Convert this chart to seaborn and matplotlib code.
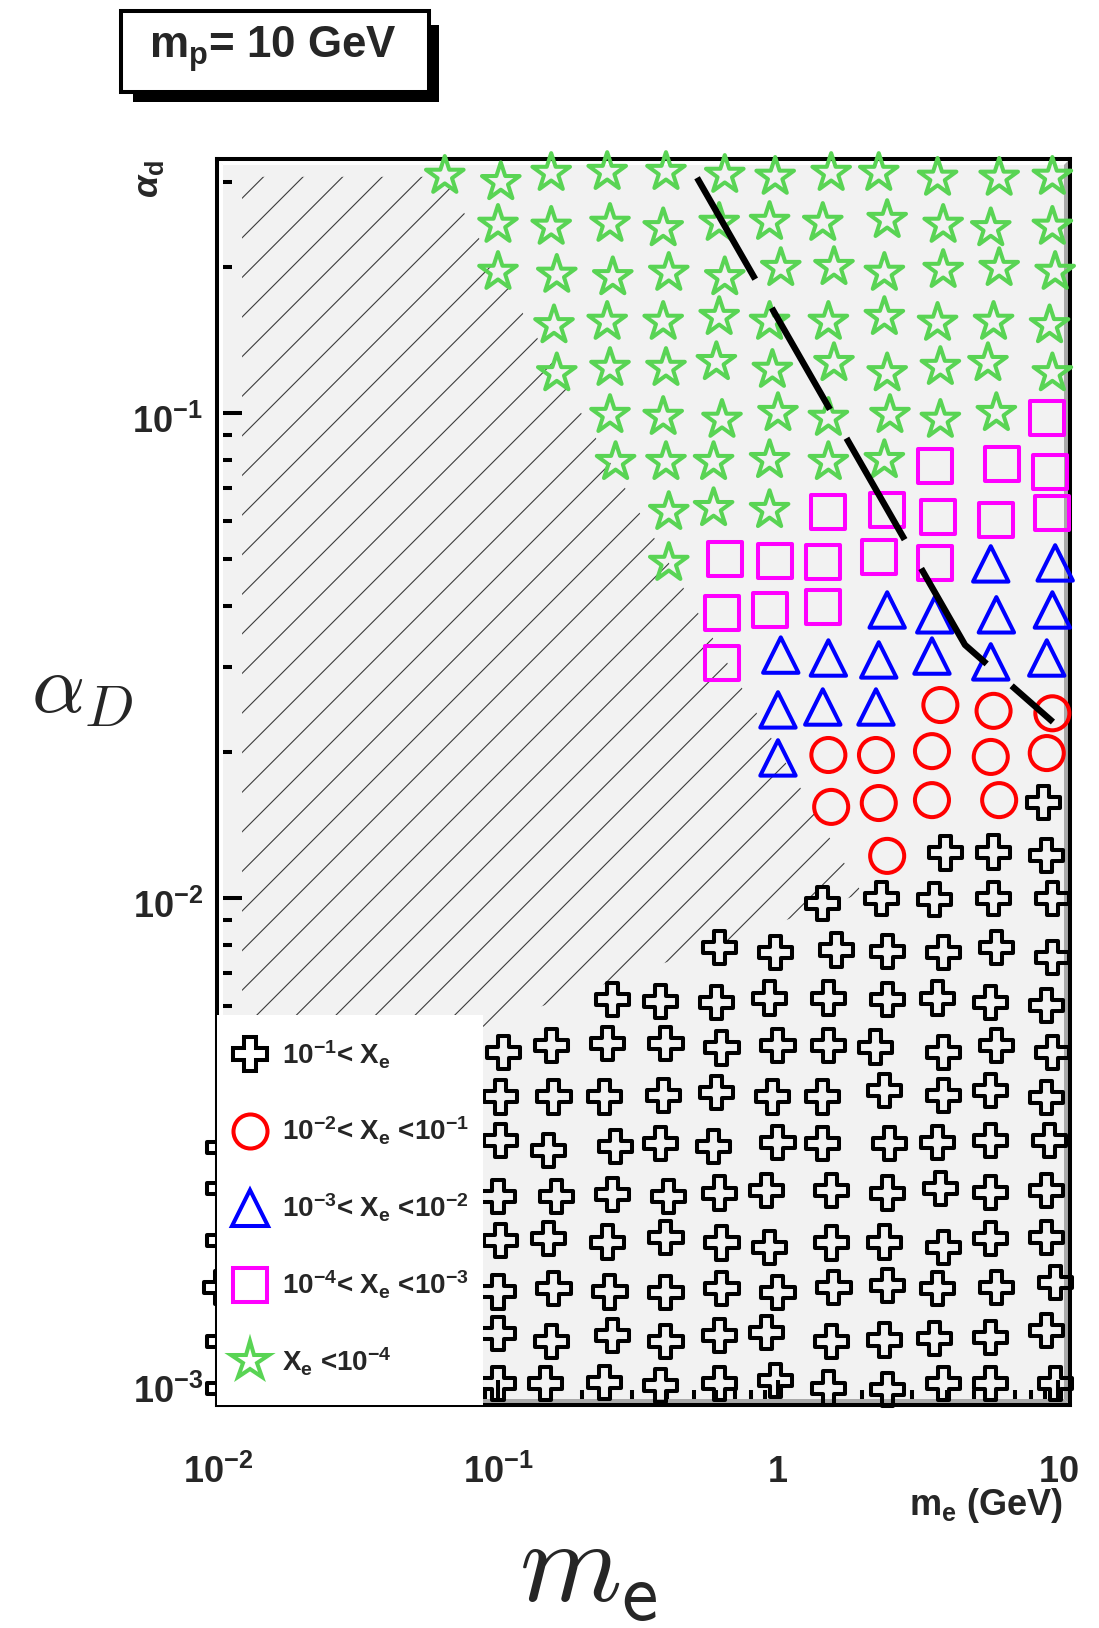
import numpy as np
import pandas as pd
import matplotlib
matplotlib.use("Agg")
import matplotlib.pyplot as plt
import seaborn as sns
from matplotlib.lines import Line2D
from matplotlib.patches import Polygon, Rectangle
from matplotlib.collections import LineCollection
from matplotlib.markers import MarkerStyle
from matplotlib.transforms import ScaledTranslation
from matplotlib.ticker import FixedLocator, FixedFormatter, LogLocator, NullFormatter

# ---------------- data: log10(m_e / GeV) and log10(alpha_D) ----------------
star_log_me = [-1.19, -0.99, -0.81, -0.61, -0.40, -0.19, -0.01, 0.19, 0.36, 0.57, 0.79, 0.98,
               -1.00, -0.81, -0.60, -0.41, -0.21, -0.03, 0.16, 0.39, 0.59, 0.76, 0.98,
               -1.00, -0.79, -0.59, -0.39, -0.19, 0.01, 0.20, 0.38, 0.59, 0.79, 0.99,
               -0.80, -0.61, -0.41, -0.21, -0.03, 0.18, 0.38, 0.57, 0.77, 0.97,
               -0.79, -0.60, -0.40, -0.22, -0.02, 0.20, 0.39, 0.58, 0.75, 0.98,
               -0.60, -0.41, -0.20, 0.00, 0.18, 0.40, 0.58, 0.78,
               -0.58, -0.40, -0.23, -0.03, 0.18, 0.38,
               -0.39, -0.23, -0.03,
               -0.39]
star_log_alpha = [-0.511, -0.524, -0.505, -0.503, -0.503, -0.509, -0.513, -0.505, -0.505, -0.515, -0.515, -0.513,
                  -0.612, -0.616, -0.610, -0.619, -0.608, -0.606, -0.608, -0.602, -0.612, -0.619, -0.616,
                  -0.709, -0.715, -0.720, -0.711, -0.720, -0.701, -0.699, -0.711, -0.705, -0.701, -0.709,
                  -0.819, -0.812, -0.812, -0.802, -0.812, -0.812, -0.802, -0.814, -0.812, -0.819,
                  -0.918, -0.907, -0.907, -0.895, -0.911, -0.897, -0.918, -0.905, -0.897, -0.918,
                  -1.004, -1.008, -1.014, -1.000, -1.010, -1.004, -1.014, -1.000,
                  -1.101, -1.101, -1.101, -1.097, -1.101, -1.097,
                  -1.204, -1.196, -1.200,
                  -1.309]

square_log_me = [0.96, 0.56, 0.80, 0.97, 0.18, 0.39, 0.57, 0.78, 0.98,
                 -0.19, -0.01, 0.16, 0.36, 0.56, -0.20, -0.03, 0.16, -0.20]
square_log_alpha = [-1.010, -1.109, -1.105, -1.122, -1.204, -1.200, -1.214, -1.221, -1.206,
                    -1.301, -1.305, -1.307, -1.297, -1.309, -1.412, -1.406, -1.400, -1.515]

triangle_log_me = [0.76, 0.99, 0.39, 0.56, 0.78, 0.98, 0.01, 0.18, 0.36, 0.55, 0.76, 0.96,
                   0.00, 0.16, 0.35, 0.00]
triangle_log_alpha = [-1.311, -1.309, -1.406, -1.416, -1.416, -1.406, -1.499, -1.505, -1.509,
                      -1.501, -1.513, -1.505, -1.612, -1.606, -1.606, -1.711]

circle_log_me = [0.58, 0.77, 0.98, 0.18, 0.35, 0.55, 0.76, 0.96, 0.19, 0.36, 0.55, 0.79, 0.39]
circle_log_alpha = [-1.602, -1.614, -1.619, -1.705, -1.705, -1.697, -1.709, -1.701,
                    -1.812, -1.804, -1.798, -1.798, -1.913]

cross_log_me = [0.95,
                0.60, 0.77, 0.96,
                0.16, 0.37, 0.56, 0.77, 0.98,
                -0.21, -0.01, 0.21, 0.39, 0.59, 0.78, 0.98,
                -0.59, -0.42, -0.22, -0.03, 0.18, 0.39, 0.57, 0.76, 0.96,
                -0.98, -0.81, -0.61, -0.40, -0.20, 0.00, 0.18, 0.35, 0.59, 0.78, 0.98,
                -0.99, -0.80, -0.62, -0.41, -0.22, -0.02, 0.16, 0.38, 0.59, 0.76, 0.96,
                -1.98, -0.99, -0.82, -0.58, -0.42, -0.23, 0.00, 0.16, 0.40, 0.57, 0.76, 0.97,
                -1.98, -1.00, -0.79, -0.59, -0.39, -0.21, -0.04, 0.19, 0.39, 0.58, 0.76, 0.96,
                -1.98, -0.99, -0.82, -0.61, -0.40, -0.20, -0.03, 0.19, 0.38, 0.59, 0.76, 0.96,
                -1.99, -1.00, -0.80, -0.60, -0.40, -0.20, 0.00, 0.20, 0.39, 0.57, 0.78, 0.99,
                -1.98, -1.00, -0.81, -0.59, -0.40, -0.21, -0.04, 0.19, 0.38, 0.56, 0.76, 0.96,
                -1.98, -1.00, -0.83, -0.62, -0.42, -0.21, -0.01, 0.18, 0.39, 0.59, 0.76, 0.99]
cross_log_alpha = [-1.802,
                   -1.907, -1.905, -1.913,
                   -2.012, -2.000, -2.002, -2.000, -2.000,
                   -2.101, -2.113, -2.107, -2.111, -2.113, -2.101, -2.122,
                   -2.210, -2.214, -2.216, -2.206, -2.206, -2.210, -2.206, -2.216, -2.221,
                   -2.318, -2.303, -2.299, -2.299, -2.309, -2.303, -2.303, -2.307, -2.318, -2.303, -2.318,
                   -2.410, -2.410, -2.410, -2.406, -2.400, -2.410, -2.410, -2.396, -2.406, -2.396, -2.412,
                   -2.515, -2.499, -2.520, -2.513, -2.505, -2.513, -2.503, -2.505, -2.505, -2.503, -2.499, -2.499,
                   -2.598, -2.616, -2.616, -2.612, -2.616, -2.608, -2.602, -2.602, -2.608, -2.598, -2.606, -2.602,
                   -2.705, -2.705, -2.701, -2.709, -2.699, -2.711, -2.720, -2.711, -2.709, -2.720, -2.701, -2.699,
                   -2.802, -2.812, -2.804, -2.812, -2.814, -2.804, -2.814, -2.802, -2.798, -2.804, -2.802, -2.792,
                   -2.915, -2.897, -2.915, -2.901, -2.915, -2.901, -2.895, -2.915, -2.911, -2.907, -2.905, -2.891,
                   -3.010, -3.000, -3.000, -2.998, -3.004, -3.000, -2.994, -3.010, -3.014, -3.000, -3.000, -3.000]

# dashed boundary line
line_log_me = [-0.289, 0.668, 0.982]
line_log_alpha = [-0.515, -1.478, -1.637]

# hatched (excluded) region
hatch_log_me = [-1.914, -1.196, 0.300, -1.914]
hatch_log_alpha = [-0.513, -0.513, -1.990, -2.441]

legend_labels = [r"$10^{-1}$< X$_{\rm e}$",
                 r"$10^{-2}$< X$_{\rm e}$ <$10^{-1}$",
                 r"$10^{-3}$< X$_{\rm e}$ <$10^{-2}$",
                 r"$10^{-4}$< X$_{\rm e}$ <$10^{-3}$",
                 r"X$_{\rm e}$ <$10^{-4}$"]
x_ticks = [0.01, 0.1, 1, 10]
x_tick_labels = [r"$10^{-2}$", r"$10^{-1}$", r"$1$", r"$10$"]
y_ticks = [0.001, 0.01, 0.1]
y_tick_labels = [r"$10^{-3}$", r"$10^{-2}$", r"$10^{-1}$"]

# ---------------- style ----------------
sns.set_style("white")
plt.rcParams['font.family'] = ['Liberation Sans', 'DejaVu Sans']
plt.rcParams['font.weight'] = 'bold'
plt.rcParams['mathtext.fontset'] = 'custom'
plt.rcParams['mathtext.rm'] = 'Liberation Sans:bold'
plt.rcParams['mathtext.it'] = 'Liberation Sans:bold:italic'
plt.rcParams['mathtext.bf'] = 'Liberation Sans:bold'
plt.rcParams['mathtext.sf'] = 'Liberation Sans:bold'

FW, FH = 1099, 1628
def fx(px):
    return px / FW
def fy(py):
    return 1 - py / FH

fig = plt.figure(figsize=(FW / 100, FH / 100), dpi=100)
fig.patch.set_facecolor('white')
AX_L, AX_R, AX_T, AX_B = 217, 1070, 159, 1405
W, H = AX_R - AX_L, AX_B - AX_T
ax = fig.add_axes([fx(AX_L), fy(AX_B), W / FW, H / FH])
ax.set_xscale('log')
ax.set_yscale('log')
ax.set_facecolor('#f2f2f2')

green = '#59d454'
classes = [
    ('cross', cross_log_me, cross_log_alpha, 'P', 'black', 23.8),
    ('circle', circle_log_me, circle_log_alpha, 'o', '#ff0000', 24.5),
    ('triangle', triangle_log_me, triangle_log_alpha, '^', '#0000ff', 25.5),
    ('square', square_log_me, square_log_alpha, 's', '#ff00ff', 24.5),
    ('star', star_log_me, star_log_alpha, MarkerStyle('*', joinstyle='miter'), green, 28.5),
]
for name, lx, ly, mk, col, ms in classes:
    df = pd.DataFrame({'m_e': 10 ** np.array(lx), 'alpha_D': 10 ** np.array(ly)})
    sns.scatterplot(data=df, x='m_e', y='alpha_D', marker=mk, s=ms ** 2,
                    facecolor='none', edgecolor=col, linewidth=2.9,
                    ax=ax, legend=False, zorder=3, clip_on=False)
    coll = ax.collections[-1]
    coll.set_facecolor('none')
    coll.set_edgecolor(col)

# dashed line
ax.plot(10 ** np.array(line_log_me), 10 ** np.array(line_log_alpha), color='black',
        lw=4.6, dashes=(18.3, 5.2), dash_capstyle='butt', solid_joinstyle='miter', zorder=3.5)

# hatched region
hatch_poly = Polygon(np.column_stack([10 ** np.array(hatch_log_me), 10 ** np.array(hatch_log_alpha)]),
                     closed=True, facecolor='none', edgecolor='none', zorder=1.4)
ax.add_patch(hatch_poly)
c0, step = -1181.7, 39.6
segs = []
for n in range(-10, 80):
    c = c0 + step * n
    if -H <= c <= W:
        segs.append([(c / W, 0), ((c + H) / W, 1)])
lc = LineCollection(segs, colors='#3c3c3c', linewidths=0.8, transform=ax.transAxes, zorder=1.5)
ax.add_collection(lc, autolim=False)
lc.set_clip_path(hatch_poly)

# frame bevel (ROOT style)
bw, bh = 6 / W, 6 / H
ax.add_patch(Polygon([(0, 1), (1, 1), (1 - bw, 1 - bh), (bw, 1 - bh)], closed=True,
                     transform=ax.transAxes, facecolor='white', edgecolor='none', zorder=1.2))
ax.add_patch(Polygon([(0, 0), (0, 1), (bw, 1 - bh), (bw, bh)], closed=True,
                     transform=ax.transAxes, facecolor='white', edgecolor='none', zorder=1.2))
ax.add_patch(Polygon([(1, 1), (1, 0), (1 - bw, bh), (1 - bw, 1 - bh)], closed=True,
                     transform=ax.transAxes, facecolor='#a9a9a9', edgecolor='none', zorder=1.2))
ax.add_patch(Polygon([(0, 0), (1, 0), (1 - bw, bh), (bw, bh)], closed=True,
                     transform=ax.transAxes, facecolor='#a9a9a9', edgecolor='none', zorder=1.2))

# axes limits / ticks
ax.set_xlim(10 ** -2.0036, 10 ** 1.043)
ax.set_ylim(10 ** -3.045, 10 ** -0.4763)
ax.set_xlabel('')
ax.set_ylabel('')
ax.xaxis.set_major_locator(FixedLocator(x_ticks))
ax.xaxis.set_major_formatter(FixedFormatter(x_tick_labels))
ax.yaxis.set_major_locator(FixedLocator(y_ticks))
ax.yaxis.set_major_formatter(FixedFormatter(y_tick_labels))
ax.xaxis.set_minor_locator(LogLocator(base=10, subs=np.arange(2, 10), numticks=30))
ax.yaxis.set_minor_locator(LogLocator(base=10, subs=np.arange(2, 10), numticks=30))
ax.xaxis.set_minor_formatter(NullFormatter())
ax.yaxis.set_minor_formatter(NullFormatter())
ax.tick_params(which='major', direction='in', length=18, width=2.9, top=False, right=False,
               bottom=True, left=True, labelsize=26, color='black')
ax.tick_params(which='minor', direction='in', length=11, width=2.9, top=False, right=False,
               bottom=True, left=True, color='black')
ax.tick_params(axis='y', which='major', pad=10)
ax.tick_params(axis='x', which='major', pad=36)
for sp in ax.spines.values():
    sp.set_linewidth(2.9)
    sp.set_color('black')
    sp.set_visible(True)
ydown = ScaledTranslation(0, -6 / 100, fig.dpi_scale_trans)
for lab in ax.get_yticklabels():
    lab.set_transform(lab.get_transform() + ydown)

# legend box + legend
ax.add_patch(Rectangle((0, 0), (483 - AX_L) / W, (AX_B - 1015) / H, transform=ax.transAxes,
                       facecolor='white', edgecolor='none', zorder=4, clip_on=False))
handles = [
    Line2D([], [], ls='none', marker='P', ms=23.8, mfc='none', mec='black', mew=2.9),
    Line2D([], [], ls='none', marker='o', ms=24.5, mfc='none', mec='#ff0000', mew=2.9),
    Line2D([], [], ls='none', marker='^', ms=25.5, mfc='none', mec='#0000ff', mew=2.9),
    Line2D([], [], ls='none', marker='s', ms=24.5, mfc='none', mec='#ff00ff', mew=2.9),
    Line2D([], [], ls='none', marker=MarkerStyle('*', joinstyle='miter'), ms=28.5, mfc='none', mec=green, mew=2.9),
]
leg = ax.legend(handles, legend_labels, loc='center left',
                bbox_to_anchor=((222 - AX_L) / W, (AX_B - 1208) / H),
                frameon=False, prop={'size': 20, 'weight': 'bold'},
                handlelength=2.0, handletextpad=0.15, labelspacing=1.6,
                borderpad=0, borderaxespad=0)
leg.set_zorder(5)

# texts
fig.text(fx(148), fy(160), r"$\alpha_{\rm d}$", rotation=90, ha='center', va='top', fontsize=26)
fig.text(fx(82), fy(691), r"$\alpha_D$", math_fontfamily='cm', fontsize=60, ha='center', va='center')
fig.text(fx(588), fy(1602), r"$m_{\mathsf{e}}$", math_fontfamily='cm', fontsize=84, ha='center', va='baseline')
fig.text(fx(1063), fy(1515), r"m$_{\rm e}$ (GeV)", ha='right', va='baseline', fontsize=26, fontweight='bold')

# title box with shadow
fig.add_artist(Rectangle((fx(133), fy(102)), (439 - 133) / FW, (102 - 25) / FH,
                         transform=fig.transFigure, facecolor='black', edgecolor='none'))
fig.add_artist(Rectangle((fx(121), fy(92)), (429 - 121) / FW, (92 - 11) / FH,
                         transform=fig.transFigure, facecolor='white', edgecolor='black', lw=2.9))
fig.text(fx(149), fy(58), r"m$_{\rm p}$= 10 GeV", ha='left', va='baseline', fontsize=31.6, fontweight='bold')

fig.savefig('out.png', dpi=100)
